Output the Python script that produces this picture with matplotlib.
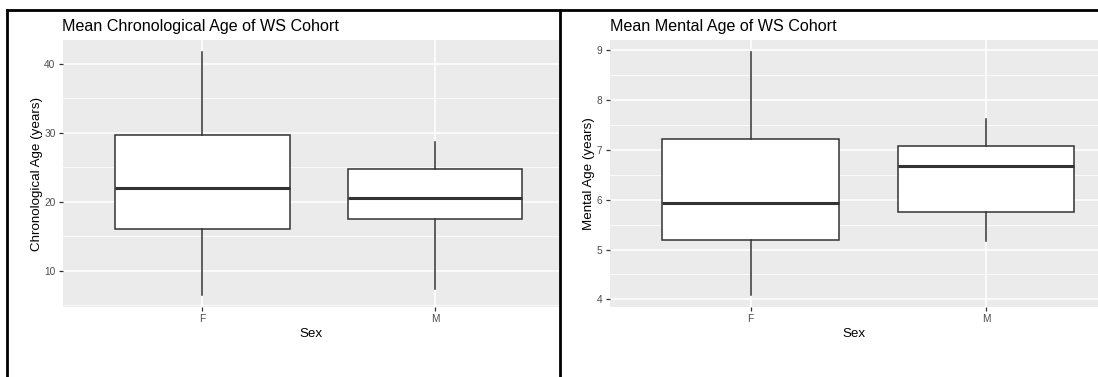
import matplotlib
matplotlib.use("Agg")
import matplotlib.pyplot as plt
from matplotlib.lines import Line2D
from matplotlib.ticker import MultipleLocator

plt.rcParams['font.family'] = ['Liberation Sans', 'DejaVu Sans']

# ---- data (box statistics) ----
sexes = ["F", "M"]
chrono_whislo = [6.5, 7.4]
chrono_q1 = [16.1, 17.5]
chrono_med = [22.0, 20.5]
chrono_q3 = [29.7, 24.8]
chrono_whishi = [41.7, 28.7]
chrono_ticks = [10, 20, 30, 40]

mental_whislo = [4.09, 5.17]
mental_q1 = [5.19, 5.76]
mental_med = [5.93, 6.67]
mental_q3 = [7.21, 7.07]
mental_whishi = [8.96, 7.62]
mental_ticks = [4, 5, 6, 7, 8, 9]

titles = ["Mean Chronological Age of WS Cohort", "Mean Mental Age of WS Cohort"]
ylabels = ["Chronological Age (years)", "Mental Age (years)"]
xlabel = "Sex"

W, H = 1098, 377
fig = plt.figure(figsize=(W / 100, H / 100), dpi=100)
fig.patch.set_facecolor("white")


def px_axes(x0, y0, x1, y1):
    return fig.add_axes([x0 / W, 1 - y1 / H, (x1 - x0) / W, (y1 - y0) / H])


def draw_panel(ax, lo, q1, med, q3, hi, ticks, minor_step, title, ylabel, xmax):
    stats = []
    for i, s in enumerate(sexes):
        stats.append(dict(label=s, whislo=lo[i], q1=q1[i], med=med[i], q3=q3[i], whishi=hi[i], fliers=[]))
    ax.set_facecolor("#EBEBEB")
    ax.bxp(stats, positions=[1, 2], widths=0.75, showcaps=False, patch_artist=True,
           boxprops=dict(facecolor="white", edgecolor="#333333", linewidth=1.1),
           whiskerprops=dict(color="#333333", linewidth=1.1),
           medianprops=dict(color="#333333", linewidth=2.2),
           zorder=3)
    dmin, dmax = min(lo), max(hi)
    rng = dmax - dmin
    ax.set_ylim(dmin - 0.05 * rng, dmax + 0.05 * rng)
    ax.set_xlim(0.4, xmax)
    ax.set_yticks(ticks)
    ax.yaxis.set_minor_locator(MultipleLocator(minor_step))
    ax.set_xticks([1, 2])
    ax.set_xticklabels(sexes)
    ax.grid(True, which="major", color="white", linewidth=1.1, zorder=0)
    ax.grid(True, which="minor", axis="y", color="white", linewidth=0.55, zorder=0)
    ax.set_axisbelow(True)
    for sp in ax.spines.values():
        sp.set_visible(False)
    ax.tick_params(axis="both", which="major", length=3, width=0.9, color="#333333",
                   labelcolor="#4D4D4D", labelsize=7.3, pad=2)
    ax.tick_params(axis="y", which="minor", length=0)
    ax.set_title(title, loc="left", fontsize=11.6, color="black", pad=6.5)
    ax.set_ylabel(ylabel, fontsize=9.6, color="black", labelpad=1)
    ax.set_xlabel(xlabel, fontsize=9.6, color="black", labelpad=3)


ax1 = px_axes(62.5, 40, 558.5, 307)
draw_panel(ax1, chrono_whislo, chrono_q1, chrono_med, chrono_q3, chrono_whishi,
           chrono_ticks, 5, titles[0], ylabels[0], 2.53)

ax2 = px_axes(609.5, 40, 1098, 307)
draw_panel(ax2, mental_whislo, mental_q1, mental_med, mental_q3, mental_whishi,
           mental_ticks, 0.5, titles[1], ylabels[1], 2.476)

# black frame lines (in pixel coordinates)
def pline(x0, y0, x1, y1, lw=2):
    fig.add_artist(Line2D([x0 / W, x1 / W], [1 - y0 / H, 1 - y1 / H],
                          transform=fig.transFigure, color="black", linewidth=lw))

pline(7, 10, 1098, 10)
pline(7, 10, 7, 377)
pline(560, 10, 560, 377)

fig.savefig("out.png", dpi=100)
